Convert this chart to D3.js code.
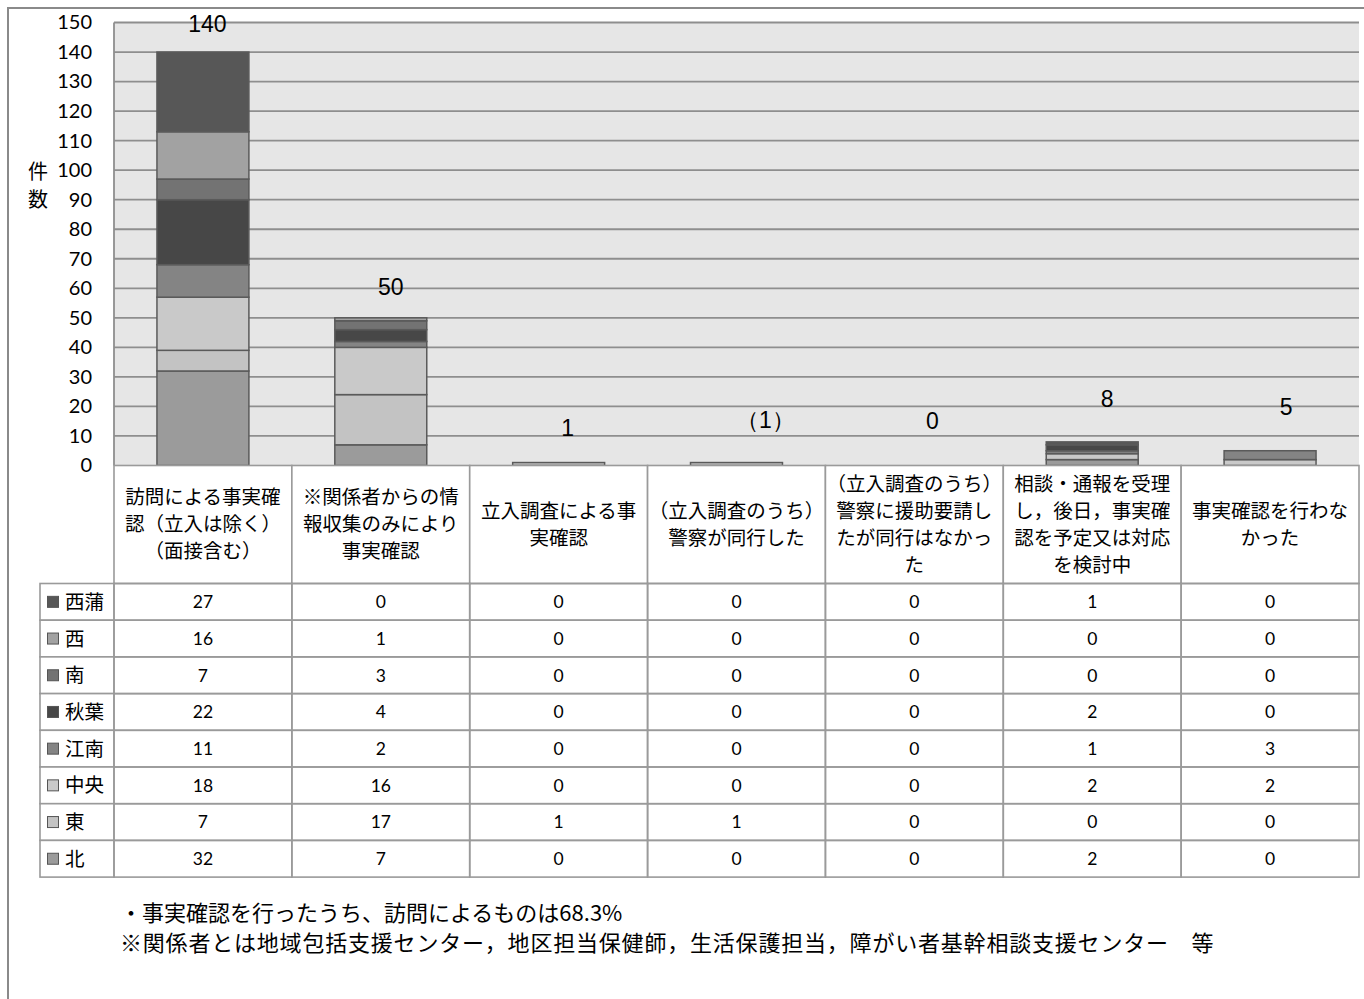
<!DOCTYPE html>
<html><head><meta charset="utf-8">
<script src="https://cdn.jsdelivr.net/npm/d3@7"></script>
<style>body{margin:0;background:#fff}svg{display:block}</style>
</head><body><svg id="c" width="1364" height="999"></svg>
<script>
// ---- data ----
const categories = [
  ["訪問による事実確","認（立入は除く）","（面接含む）"],
  ["※関係者からの情","報収集のみにより","事実確認"],
  ["立入調査による事","実確認"],
  ["（立入調査のうち）","警察が同行した"],
  ["（立入調査のうち）","警察に援助要請し","たが同行はなかっ","た"],
  ["相談・通報を受理","し，後日，事実確","認を予定又は対応","を検討中"],
  ["事実確認を行わな","かった"]
];
const seriesNames = ["西蒲","西","南","秋葉","江南","中央","東","北"];
const v西蒲 = [27,0,0,0,0,1,0];
const v西   = [16,1,0,0,0,0,0];
const v南   = [7,3,0,0,0,0,0];
const v秋葉 = [22,4,0,0,0,2,0];
const v江南 = [11,2,0,0,0,1,3];
const v中央 = [18,16,0,0,0,2,2];
const v東   = [7,17,1,1,0,0,0];
const v北   = [32,7,0,0,0,2,0];
const seriesValues = [v西蒲,v西,v南,v秋葉,v江南,v中央,v東,v北];
const totalLabels = ["140","50","1","（1）","0","8","5"];
const yTicks = [0,10,20,30,40,50,60,70,80,90,100,110,120,130,140,150];
const yTitle = ["件","数"];
const notes = ["・事実確認を行ったうち、訪問によるものは68.3%",
  "※関係者とは地域包括支援センター，地区担当保健師，生活保護担当，障がい者基幹相談支援センター　等"];

// ---- styles / layout ----
const colors = {"西蒲":"#575757","西":"#a2a2a2","南":"#737373","秋葉":"#474747","江南":"#848484","中央":"#c9c9c9","東":"#c3c3c3","北":"#9b9b9b"};
const labelDx = [4.5,10,9,29,18,15,16];
const labelDy = [20,23,26.5,34.5,36.5,35,35.7];
const noteSpacing = [0,0.8];
const L = 114, R = 1359, T = 22.5, B = 465.5;
const headerBottom = 583.5, rowH = 36.7, tableLeft = 40;
const jp = "'Noto Sans CJK JP','Noto Sans',sans-serif";
const num = "Lato,'Open Sans',sans-serif";

const svg = d3.select("#c");
const keys = categories.map((c,i)=>"c"+i);
const x = d3.scaleBand().domain(keys).range([L,R]).padding(0);
const y = d3.scaleLinear().domain([0,150]).range([B,T]);
const bw = x.bandwidth()*0.517;

// outer frame
svg.append("rect").attr("x",8).attr("y",8).attr("width",1400).attr("height",1100)
  .attr("fill","none").attr("stroke","#8a8a8a").attr("stroke-width",2);
// plot bg
svg.append("rect").attr("x",L).attr("y",T).attr("width",R-L).attr("height",B-T).attr("fill","#e6e6e6");
// gridlines
svg.append("g").selectAll("line").data(yTicks.filter(t=>t>0)).join("line")
  .attr("x1",L).attr("x2",R).attr("y1",d=>y(d)).attr("y2",d=>y(d))
  .attr("stroke","#8e8e8e").attr("stroke-width",1.8);
svg.append("line").attr("x1",L).attr("x2",L).attr("y1",T).attr("y2",B).attr("stroke","#8e8e8e").attr("stroke-width",1.8);

// y axis labels
const ax = svg.append("g").attr("transform",`translate(${L},0)`)
  .call(d3.axisLeft(y).tickValues(yTicks).tickSize(0).tickPadding(22));
ax.select(".domain").remove();
ax.selectAll("text").attr("font-family",num).attr("font-size",20).attr("fill","#000");
svg.append("g").selectAll("text").data(yTitle).join("text")
  .attr("x",38).attr("y",(d,i)=>179+i*28).attr("text-anchor","middle")
  .attr("font-family",jp).attr("font-size",20).attr("fill","#000").text(d=>d);

// stacked bars (北 at bottom)
const stackOrder = seriesNames.slice().reverse();
const rows = keys.map((k,i)=>{const o={key:k}; seriesNames.forEach((s,j)=>o[s]=seriesValues[j][i]); return o;});
const stacked = d3.stack().keys(stackOrder)(rows);
const gBars = svg.append("g");
stacked.forEach(layer=>{
  gBars.append("g").selectAll("rect").data(layer.filter(d=>d[1]-d[0]>0)).join("rect")
    .attr("x",d=>x(d.data.key)+(x.bandwidth()-bw)/2).attr("width",bw)
    .attr("y",d=>y(d[1])).attr("height",d=>y(d[0])-y(d[1]))
    .attr("fill",colors[layer.key]).attr("stroke","#5a5a5a").attr("stroke-width",1.5);
});

// total labels
const totals = rows.map(r=>d3.sum(seriesNames,s=>r[s]));
svg.append("g").selectAll("text").data(totalLabels).join("text")
  .attr("x",(d,i)=>x(keys[i])+x.bandwidth()/2+labelDx[i])
  .attr("y",(d,i)=>y(totals[i])-labelDy[i])
  .attr("text-anchor","middle").attr("font-family","'Liberation Sans',Arial,sans-serif")
  .attr("font-size",23).attr("fill","#000").text(d=>d);

// table
const tg = svg.append("g");
const gridC = "#9a9a9a";
keys.forEach((k,i)=>{
  tg.append("rect").attr("x",x(k)).attr("y",B).attr("width",x.bandwidth()).attr("height",headerBottom-B)
    .attr("fill","#fff").attr("stroke",gridC).attr("stroke-width",1.6);
  const lines = categories[i];
  const cy = (B+headerBottom)/2;
  tg.append("g").selectAll("text").data(lines).join("text")
    .attr("x",x(k)+x.bandwidth()/2)
    .attr("y",(d,j)=>cy+(j-(lines.length-1)/2)*27)
    .attr("dy","0.35em").attr("text-anchor","middle")
    .attr("font-family",jp).attr("font-size",19.5).attr("fill","#000").text(d=>d);
});
seriesNames.forEach((s,j)=>{
  const ry = headerBottom + j*rowH;
  tg.append("rect").attr("x",tableLeft).attr("y",ry).attr("width",L-tableLeft).attr("height",rowH)
    .attr("fill","#fff").attr("stroke",gridC).attr("stroke-width",1.6);
  tg.append("rect").attr("x",47.5).attr("y",ry+rowH/2-5.5).attr("width",11).attr("height",11)
    .attr("fill",colors[s]).attr("stroke","#555").attr("stroke-width",1);
  tg.append("text").attr("x",65).attr("y",ry+rowH/2).attr("dy","0.36em")
    .attr("font-family",jp).attr("font-size",19.5).attr("fill","#000").text(s);
  keys.forEach((k,i)=>{
    tg.append("rect").attr("x",x(k)).attr("y",ry).attr("width",x.bandwidth()).attr("height",rowH)
      .attr("fill","none").attr("stroke",gridC).attr("stroke-width",1.6);
    tg.append("text").attr("x",x(k)+x.bandwidth()/2).attr("y",ry+rowH/2).attr("dy","0.36em")
      .attr("text-anchor","middle").attr("font-family",num).attr("font-size",17.5).attr("fill","#000")
      .text(seriesValues[j][i]);
  });
});

// notes
svg.append("g").selectAll("text").data(notes).join("text")
  .attr("x",120).attr("y",(d,i)=>913+i*30).attr("dy","0.35em")
  .attr("letter-spacing",(d,i)=>noteSpacing[i])
  .attr("font-family",jp).attr("font-size",22).attr("fill","#000").text(d=>d);
</script></body></html>
